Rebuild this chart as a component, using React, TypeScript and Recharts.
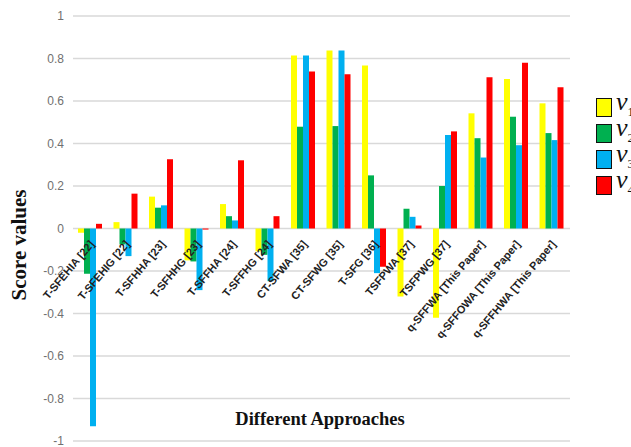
import React from "react";
import { BarChart, Bar, XAxis, YAxis, CartesianGrid } from "recharts";

const categories = [
  "T-SFEHIA [22]",
  "T-SFEHIG [22]",
  "T-SFHHA [23]",
  "T-SFHHG [23]",
  "T-SFFHA [24]",
  "T-SFFHG [24]",
  "CT-SFWA [35]",
  "CT-SFWG [35]",
  "T-SFG [36]",
  "TSFPWA [37]",
  "TSFPWG [37]",
  "q-SFFWA [This Paper]",
  "q-SFFOWA [This Paper]",
  "q-SFFHWA [This Paper]",
];

const v1 = [-0.02, 0.03, 0.15, -0.15, 0.115, -0.107, 0.814, 0.838, 0.767, -0.32, -0.42, 0.542, 0.704, 0.589];
const v2 = [-0.213, -0.075, 0.098, -0.155, 0.058, -0.124, 0.479, 0.482, 0.25, 0.093, 0.2, 0.425, 0.526, 0.449];
const v3 = [-0.93, -0.13, 0.109, -0.29, 0.038, -0.248, 0.814, 0.838, -0.21, 0.055, 0.44, 0.334, 0.392, 0.416];
const v4 = [0.022, 0.164, 0.326, -0.005, 0.321, 0.058, 0.739, 0.726, -0.18, 0.014, 0.457, 0.712, 0.78, 0.665];

const yTicks = [-1, -0.8, -0.6, -0.4, -0.2, 0, 0.2, 0.4, 0.6, 0.8, 1];

const seriesNames = ["v1", "v2", "v3", "v4"];
const seriesSubs = ["1", "2", "3", "4"];
const colors = ["#ffff00", "#00b050", "#00b0f0", "#ff0000"];

const data = categories.map((name, i) => ({
  name,
  v1: v1[i],
  v2: v2[i],
  v3: v3[i],
  v4: v4[i],
}));

const W = 631;
const H = 447;
const MARGIN = { top: 16, right: 61, bottom: 5, left: 0 };
const Y_AXIS_W = 73;
const X_AXIS_H = 1;
const PLOT_H = H - MARGIN.top - MARGIN.bottom - X_AXIS_H;
const ZERO_Y = MARGIN.top + PLOT_H / 2;

const CategoryTick = (props: any) => {
  const { x, payload } = props;
  const ax = x + 4;
  const ay = ZERO_Y + 16;
  return (
    <text
      x={ax}
      y={ay}
      transform={`rotate(-50 ${ax} ${ay})`}
      textAnchor="end"
      fontFamily="'Liberation Sans', Arial, sans-serif"
      fontWeight="bold"
      fontSize={11}
      fill="#222"
    >
      {payload.value}
    </text>
  );
};

const LegendBlock = () => (
  <div
    style={{
      position: "absolute",
      left: 596,
      top: 94,
      display: "flex",
      flexDirection: "column",
    }}
  >
    {seriesNames.map((n, i) => (
      <div
        key={n}
        style={{ display: "flex", alignItems: "center", height: 26, whiteSpace: "nowrap" }}
      >
        <div
          style={{
            width: 14,
            height: 17,
            background: colors[i],
            border: "1.5px solid #111",
            marginRight: 4,
          }}
        />
        <span
          style={{
            fontFamily: "'Liberation Serif', 'DejaVu Serif', serif",
            fontStyle: "italic",
            fontSize: 26,
            color: "#111",
            lineHeight: "26px",
          }}
        >
          v<sub style={{ fontSize: 13, fontStyle: "normal" }}>{seriesSubs[i]}</sub>
        </span>
      </div>
    ))}
  </div>
);

export default function App() {
  return (
    <div style={{ position: "relative", width: W, height: H, overflow: "hidden", background: "#fff" }}>
      <style>{"body{margin:0;overflow:hidden;}"}</style>
      <BarChart
        width={W}
        height={H}
        data={data}
        margin={MARGIN}
        barCategoryGap={5}
        barGap={0}
      >
        <CartesianGrid horizontal={true} vertical={false} stroke="#d9d9d9" strokeWidth={1.5} />
        <YAxis
          width={Y_AXIS_W}
          domain={[-1, 1]}
          ticks={yTicks}
          interval={0}
          axisLine={false}
          tickLine={false}
          tickMargin={3}
          tickFormatter={(v: number) => String(Math.round(v * 10) / 10)}
          tick={{ fontFamily: "'Liberation Sans', Arial, sans-serif", fontSize: 12, fill: "#707070" }}
        />
        {seriesNames.map((n, i) => (
          <Bar key={n} dataKey={n} fill={colors[i]} isAnimationActive={false} />
        ))}
        <XAxis
          dataKey="name"
          height={X_AXIS_H}
          axisLine={false}
          tickLine={false}
          interval={0}
          tick={<CategoryTick />}
        />
      </BarChart>
      <LegendBlock />
      <svg
        width={W}
        height={H}
        style={{ position: "absolute", left: 0, top: 0, pointerEvents: "none" }}
      >
        <text
          x={19}
          y={245}
          transform="rotate(-90 19 245)"
          textAnchor="middle"
          dominantBaseline="central"
          fontFamily="'Liberation Serif', 'Times New Roman', serif"
          fontWeight="bold"
          fontSize={21}
          fill="#111"
        >
          Score values
        </text>
        <text
          x={320}
          y={425}
          textAnchor="middle"
          fontFamily="'Liberation Serif', 'Times New Roman', serif"
          fontWeight="bold"
          fontSize={18.5}
          fill="#111"
        >
          Different Approaches
        </text>
      </svg>
    </div>
  );
}
